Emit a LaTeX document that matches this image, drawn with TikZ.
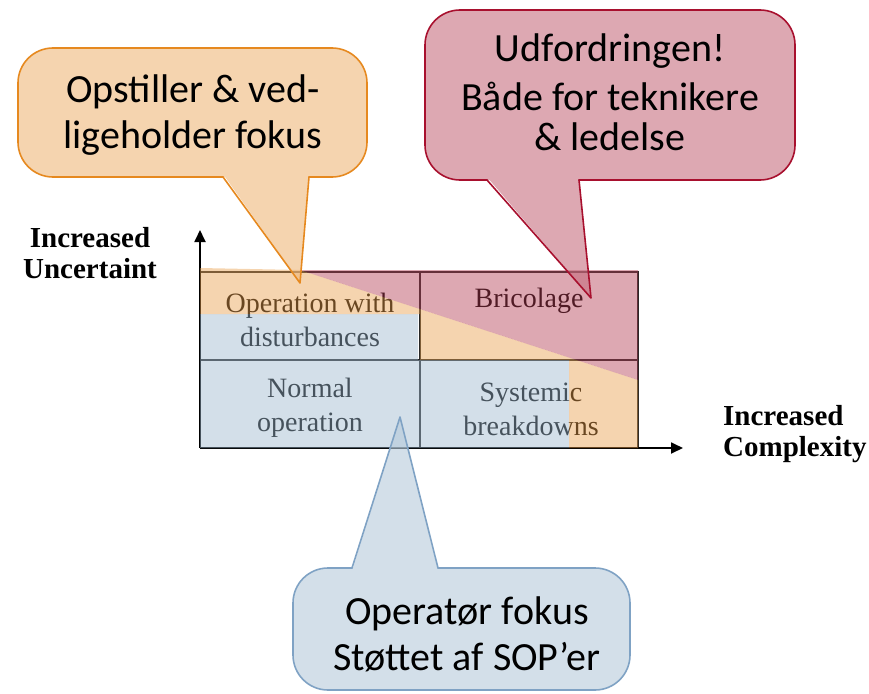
\documentclass[tikz,border=0pt]{standalone}
\usepackage{fontspec}
\setmainfont{Liberation Serif}
\newfontfamily\calloutfont{Carlito}
\usetikzlibrary{arrows.meta}
\definecolor{orangezone}{RGB}{233,159,77}
\definecolor{redzone}{RGB}{179,62,84}
\definecolor{bluezone}{RGB}{157,184,206}
\definecolor{orangewash}{RGB}{238,183,122}
\definecolor{redwash}{RGB}{198,110,127}
\definecolor{bluewash}{RGB}{182,202,218}
\definecolor{orangeedge}{HTML}{E6891F}
\definecolor{rededge}{HTML}{A8102E}
\definecolor{blueedge}{HTML}{7FA2C4}
\tikzset{%
  gridline/.style    = { draw = black!85, line width = 2pt },
  axis/.style        = { -{Triangle[length=12pt, width=11pt]}, line width = 1.8pt },
  zone/.style        = { fill = #1, fill opacity = 0.45 },
  bubbleline/.style  = { draw = #1, line width = 1.6pt, line cap = round, line join = round },
  celltext/.style    = { font = \fontsize{28}{34}\selectfont, align = center, inner sep = 0pt },
  axistext/.style    = { font = \bfseries\fontsize{29}{31}\selectfont, inner sep = 0pt },
  callouttext/.style = { font = \calloutfont\fontsize{40}{46}\selectfont, align = center, inner sep = 0pt },
}
\begin{document}
\begin{tikzpicture}[x=1pt, y=-1pt]
    \useasboundingbox (0,0) rectangle (869,693);
    % grid ------------------------------------------------------------------------------------
    \coordinate (o)  at (200,448);
    \coordinate (tl) at (200,272);
    \coordinate (tr) at (638,272);
    \coordinate (br) at (638,448);
    \coordinate (ytip) at (200,230);
    \coordinate (xtip) at (683,448);
    \draw[gridline] (tl) -- (tr) -- (br);
    \draw[gridline] (420,272) -- (420,448);
    \draw[gridline] (200,360) -- (638,360);
    \draw[axis] (o) -- (ytip);
    \draw[axis] (o) -- (xtip);
    % cell texts
    \node (opdist)    [celltext] at (310,320) {Operation with\\disturbances};
    \node (bricolage) [celltext] at (529,301) {Bricolage};
    \node (normal)    [celltext] at (310,408) {Normal\\operation};
    \node (systemic)  [celltext] at (531,409) {Systemic\\breakdowns};
    % axis labels
    \node (uncert)  [axistext, align = center]          at (90,253)  {Increased\\Uncertaint};
    \node (complex) [axistext, align = left, anchor = west] at (723,434) {Increased\\Complexity};
    % zones -------------------------------------------------------------------------------------
    \fill[zone=bluezone]   (200,314) -- (418,314) -- (418,360) -- (569,360) -- (569,448) -- (200,448) -- cycle;
    \fill[zone=orangezone] (200,268) -- (300,270) -- (638,380) -- (638,448) -- (569,448) -- (569,360)
                           -- (420,360) -- (420,314) -- (200,314) -- cycle;
    \fill[zone=redzone]    (300,270) -- (638,270) -- (638,380) -- cycle;
    % callouts ----------------------------------------------------------------------------------
    % setter & maintenance
    \begin{scope}[transparency group, opacity=0.6]
      \fill[orangewash, rounded corners=35pt] (18,48) rectangle (367,177);
      \fill[orangewash] (223,174) -- (300,283) -- (309,174) -- cycle;
    \end{scope}
    \draw[bubbleline=orangeedge, rounded corners=35pt] (223,177) -- (18,177) -- (18,48) -- (367,48) -- (367,177) -- (309,177);
    \draw[bubbleline=orangeedge] (309,177) -- (300,283) -- (223,177);
    \node (opstext) [callouttext] at (193,115) {Opstiller \& ved-\\ligeholder fokus};
    % challenge
    \begin{scope}[transparency group, opacity=0.6]
      \fill[redwash, rounded corners=35pt] (425,10) rectangle (795,180);
      \fill[redwash] (487,177) -- (591,298) -- (579,177) -- cycle;
    \end{scope}
    \draw[bubbleline=rededge, rounded corners=35pt] (487,180) -- (425,180) -- (425,10) -- (795,10) -- (795,180) -- (579,180);
    \draw[bubbleline=rededge] (579,180) -- (591,298) -- (487,180);
    \node (udftext) [callouttext] at (610,92) {Udfordringen!\\[3pt]Både for teknikere\\[-6pt]\& ledelse};
    % operator
    \begin{scope}[transparency group, opacity=0.6]
      \fill[bluewash, rounded corners=35pt] (293,568) rectangle (630,690);
      \fill[bluewash] (352,571) -- (400,417) -- (438,571) -- cycle;
    \end{scope}
    \draw[bubbleline=blueedge, rounded corners=35pt] (438,568) -- (630,568) -- (630,690) -- (293,690) -- (293,568) -- (352,568);
    \draw[bubbleline=blueedge] (352,568) -- (400,417) -- (438,568);
    \node (opertext) [callouttext] at (467,634) {Operatør fokus\\Støttet af SOP’er};
\end{tikzpicture}
\end{document}
